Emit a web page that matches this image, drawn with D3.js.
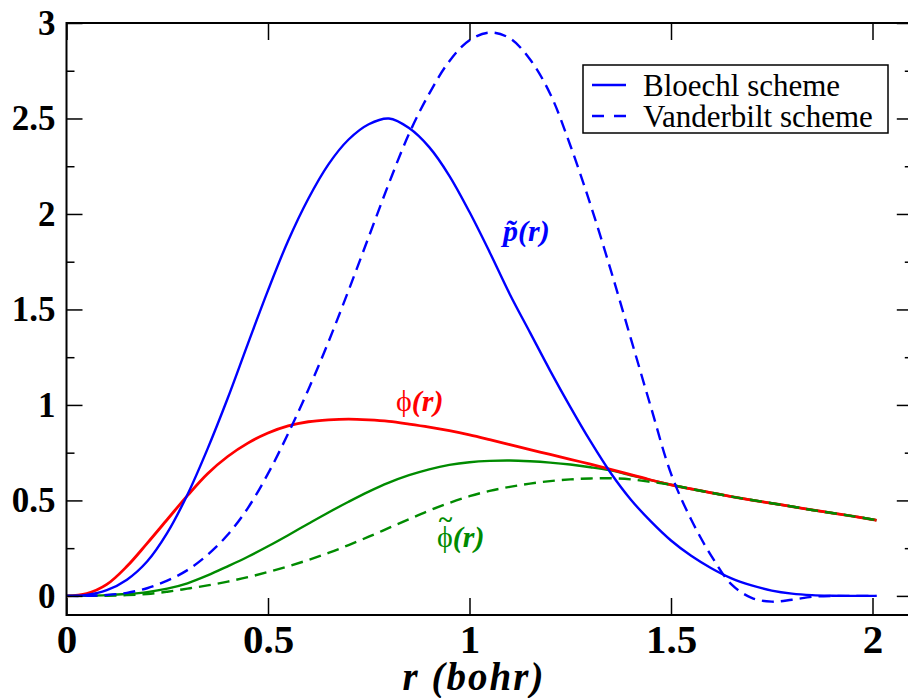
<!DOCTYPE html>
<html>
<head>
<meta charset="utf-8">
<script src="https://cdn.jsdelivr.net/npm/d3@7"></script>
<style>
  html, body { margin: 0; padding: 0; background: #fff; }
  svg { display: block; }
  text { font-family: "Liberation Serif", "Times New Roman", serif; }
</style>
</head>
<body>
<svg id="chart" width="908" height="698"></svg>
<script>
// Radial grid (bohr) shared by all curves
const radius = [0, 0.05, 0.1, 0.15, 0.2, 0.25, 0.3, 0.35, 0.4, 0.45, 0.5, 0.55, 0.6, 0.65, 0.7,
  0.75, 0.8, 0.85, 0.9, 0.95, 1.0, 1.05, 1.1, 1.15, 1.2, 1.25, 1.3, 1.35, 1.4, 1.45, 1.5,
  1.55, 1.6, 1.65, 1.7, 1.75, 1.8, 1.85, 1.9, 1.95, 2.0, 2.01];

// Projector p~(r), Bloechl scheme
const projBloechl = [0, 0.005, 0.03, 0.085, 0.18, 0.33, 0.53, 0.77, 1.035, 1.32, 1.60, 1.86, 2.08,
  2.26, 2.39, 2.47, 2.50, 2.45, 2.35, 2.20, 2.01, 1.80, 1.58, 1.38, 1.18, 0.99, 0.81, 0.645,
  0.505, 0.39, 0.29, 0.21, 0.145, 0.092, 0.055, 0.028, 0.012, 0.004, 0.001, 0, 0, 0];

// Projector p~(r), Vanderbilt scheme
const projVanderbilt = [0, 0, 0.005, 0.016, 0.04, 0.08, 0.135, 0.215, 0.32, 0.46, 0.64, 0.85, 1.08,
  1.33, 1.60, 1.88, 2.16, 2.42, 2.63, 2.80, 2.91, 2.95, 2.92, 2.81, 2.63, 2.36, 2.05, 1.71,
  1.35, 0.99, 0.64, 0.40, 0.21, 0.06, -0.01, -0.03, -0.02, -0.005, 0, 0, 0, 0];

// All-electron partial wave phi(r)
const phiAE = [0, 0.012, 0.06, 0.155, 0.275, 0.40, 0.525, 0.64, 0.73, 0.80, 0.853, 0.89, 0.912,
  0.922, 0.926, 0.922, 0.914, 0.90, 0.884, 0.865, 0.843, 0.818, 0.792, 0.766, 0.741, 0.715,
  0.69, 0.663, 0.635, 0.607, 0.582, 0.56, 0.54, 0.52, 0.502, 0.485, 0.468, 0.45, 0.434,
  0.418, 0.40, 0.396];

// Pseudo partial wave phi~(r), Bloechl scheme
const phiPSBloechl = [0, 0.001, 0.004, 0.01, 0.02, 0.038, 0.066, 0.107, 0.155, 0.205, 0.26, 0.318,
  0.378, 0.437, 0.493, 0.546, 0.593, 0.632, 0.663, 0.686, 0.70, 0.707, 0.709, 0.705, 0.698,
  0.688, 0.674, 0.657, 0.632, 0.606, 0.582, 0.56, 0.54, 0.52, 0.502, 0.485, 0.468, 0.45,
  0.434, 0.418, 0.40, 0.396];

// Pseudo partial wave phi~(r), Vanderbilt scheme
const phiPSVanderbilt = [0, 0, 0.001, 0.004, 0.01, 0.022, 0.038, 0.055, 0.075, 0.098, 0.125,
  0.155, 0.188, 0.225, 0.266, 0.31, 0.356, 0.402, 0.447, 0.487, 0.522, 0.55, 0.571, 0.588, 0.601,
  0.61, 0.615, 0.616, 0.61, 0.597, 0.582, 0.56, 0.54, 0.52, 0.502, 0.485, 0.468, 0.45,
  0.434, 0.418, 0.40, 0.396];

const xTickValues = [0, 0.5, 1, 1.5, 2];
const xTickLabels = ["0", "0.5", "1", "1.5", "2"];
const yTickValues = [0, 0.5, 1, 1.5, 2, 2.5, 3];
const yTickLabels = ["0", "0.5", "1", "1.5", "2", "2.5", "3"];
const yMinorValues = [0.25, 0.75, 1.25, 1.75, 2.25, 2.75];
const legendLabels = ["Bloechl scheme", "Vanderbilt scheme"];

const svg = d3.select("#chart");
const plotLeft = 66.5, plotRight = 912.8, plotTop = 23, plotBottom = 615;
const x = d3.scaleLinear().domain([0, 2.1]).range([plotLeft, plotRight]);
const y = d3.scaleLinear().domain([-0.1, 3]).range([plotBottom, plotTop]);

const line = d3.line()
  .x((d, i) => x(radius[i]))
  .y(d => y(d))
  .curve(d3.curveCatmullRom.alpha(0.5));

const BLUE = "#0000ff", RED = "#ff0000", GREEN = "#008b00";
const DASH = "12,7";

const curves = [
  { values: phiPSBloechl, color: GREEN, dash: null, width: 2.4 },
  { values: phiAE, color: RED, dash: null, width: 2.8 },
  { values: phiPSVanderbilt, color: GREEN, dash: DASH, width: 2.4 },
  { values: projBloechl, color: BLUE, dash: null, width: 2.4 },
  { values: projVanderbilt, color: BLUE, dash: DASH, width: 2.4 }
];

svg.append("g").selectAll("path")
  .data(curves)
  .join("path")
  .attr("d", d => line(d.values))
  .attr("fill", "none")
  .attr("stroke", d => d.color)
  .attr("stroke-width", d => d.width)
  .attr("stroke-dasharray", d => d.dash)
  .attr("stroke-linejoin", "round");

// Axes: ticks point inward on all four sides
function styleAxis(g) {
  g.select(".domain").remove();
  g.selectAll(".tick line").attr("stroke", "#000").attr("stroke-width", 1.5);
}

svg.append("g")
  .attr("transform", `translate(0,${plotBottom})`)
  .call(d3.axisBottom(x).tickValues(xTickValues).tickSizeInner(-17).tickSizeOuter(0)
    .tickPadding(9).tickFormat((d, i) => xTickLabels[i]))
  .call(styleAxis)
  .call(g => g.selectAll("text")
    .attr("fill", "#000").attr("font-size", 41).attr("font-weight", "bold")
    .attr("font-family", "Liberation Serif"));

svg.append("g")
  .attr("transform", `translate(0,${plotTop})`)
  .call(d3.axisTop(x).tickValues(xTickValues).tickSizeInner(-17).tickSizeOuter(0).tickFormat(""))
  .call(styleAxis);

svg.append("g")
  .attr("transform", `translate(${plotLeft},0)`)
  .call(d3.axisLeft(y).tickValues(yTickValues).tickSizeInner(-16).tickSizeOuter(0)
    .tickPadding(11).tickFormat((d, i) => yTickLabels[i]))
  .call(styleAxis)
  .call(g => g.selectAll("text")
    .attr("fill", "#000").attr("font-size", 35).attr("font-weight", "bold")
    .attr("font-family", "Liberation Serif"));

svg.append("g")
  .attr("transform", `translate(${plotLeft},0)`)
  .call(d3.axisLeft(y).tickValues(yMinorValues).tickSizeInner(-8)
    .tickSizeOuter(0).tickFormat(""))
  .call(styleAxis);

svg.append("g")
  .attr("transform", `translate(${plotRight},0)`)
  .call(d3.axisRight(y).tickValues(yTickValues).tickSizeInner(-16).tickSizeOuter(0).tickFormat(""))
  .call(styleAxis);

svg.append("g")
  .attr("transform", `translate(${plotRight},0)`)
  .call(d3.axisRight(y).tickValues(yMinorValues).tickSizeInner(-8)
    .tickSizeOuter(0).tickFormat(""))
  .call(styleAxis);

// Frame
svg.append("rect")
  .attr("x", plotLeft).attr("y", plotTop)
  .attr("width", plotRight - plotLeft).attr("height", plotBottom - plotTop)
  .attr("fill", "none").attr("stroke", "#000").attr("stroke-width", 2);

// Axis title
svg.append("text")
  .attr("x", 474).attr("y", 690)
  .attr("text-anchor", "middle")
  .attr("font-size", 39).attr("font-weight", "bold").attr("font-style", "italic")
  .attr("letter-spacing", 2)
  .text("r (bohr)");

// Curve labels
// p~(r): combining tilde over the bold italic p
const pLabel = svg.append("text")
  .attr("x", 503).attr("y", 241)
  .attr("fill", BLUE).attr("font-size", 30)
  .attr("font-weight", "bold").attr("font-style", "italic");
pLabel.append("tspan").text("p\u0303(r)");

// phi(r): upright phi followed by bold italic (r)
const phiLabel = svg.append("text")
  .attr("x", 396).attr("y", 411)
  .attr("fill", RED).attr("font-size", 30);
phiLabel.append("tspan").text("\u03D5");
phiLabel.append("tspan").attr("font-weight", "bold").attr("font-style", "italic").text("(r)");

// phi~(r): tilde set above the phi with relative shifts inside one text element
const phiPSLabel = svg.append("text")
  .attr("x", 437).attr("y", 547)
  .attr("fill", GREEN).attr("font-size", 30);
phiPSLabel.append("tspan").text("\u03D5");
phiPSLabel.append("tspan")
  .attr("dx", -14).attr("dy", -19)
  .attr("font-size", 26).attr("font-weight", "bold")
  .text("~");
phiPSLabel.append("tspan")
  .attr("dx", 0.5).attr("dy", 19)
  .attr("font-weight", "bold").attr("font-style", "italic")
  .text("(r)");

// Legend
const legend = svg.append("g");
legend.append("rect")
  .attr("x", 583).attr("y", 65).attr("width", 305).attr("height", 68)
  .attr("fill", "#fff").attr("stroke", "#000").attr("stroke-width", 1.5);
legend.selectAll("line")
  .data(legendLabels)
  .join("line")
  .attr("x1", 592).attr("x2", 626)
  .attr("y1", (d, i) => 85 + i * 31).attr("y2", (d, i) => 85 + i * 31)
  .attr("stroke", BLUE).attr("stroke-width", 2.4)
  .attr("stroke-dasharray", (d, i) => i === 0 ? null : "12,10");
legend.selectAll("text")
  .data(legendLabels)
  .join("text")
  .attr("x", 643).attr("y", (d, i) => 96 + i * 31)
  .attr("font-size", 31)
  .text(d => d);
</script>
</body>
</html>
